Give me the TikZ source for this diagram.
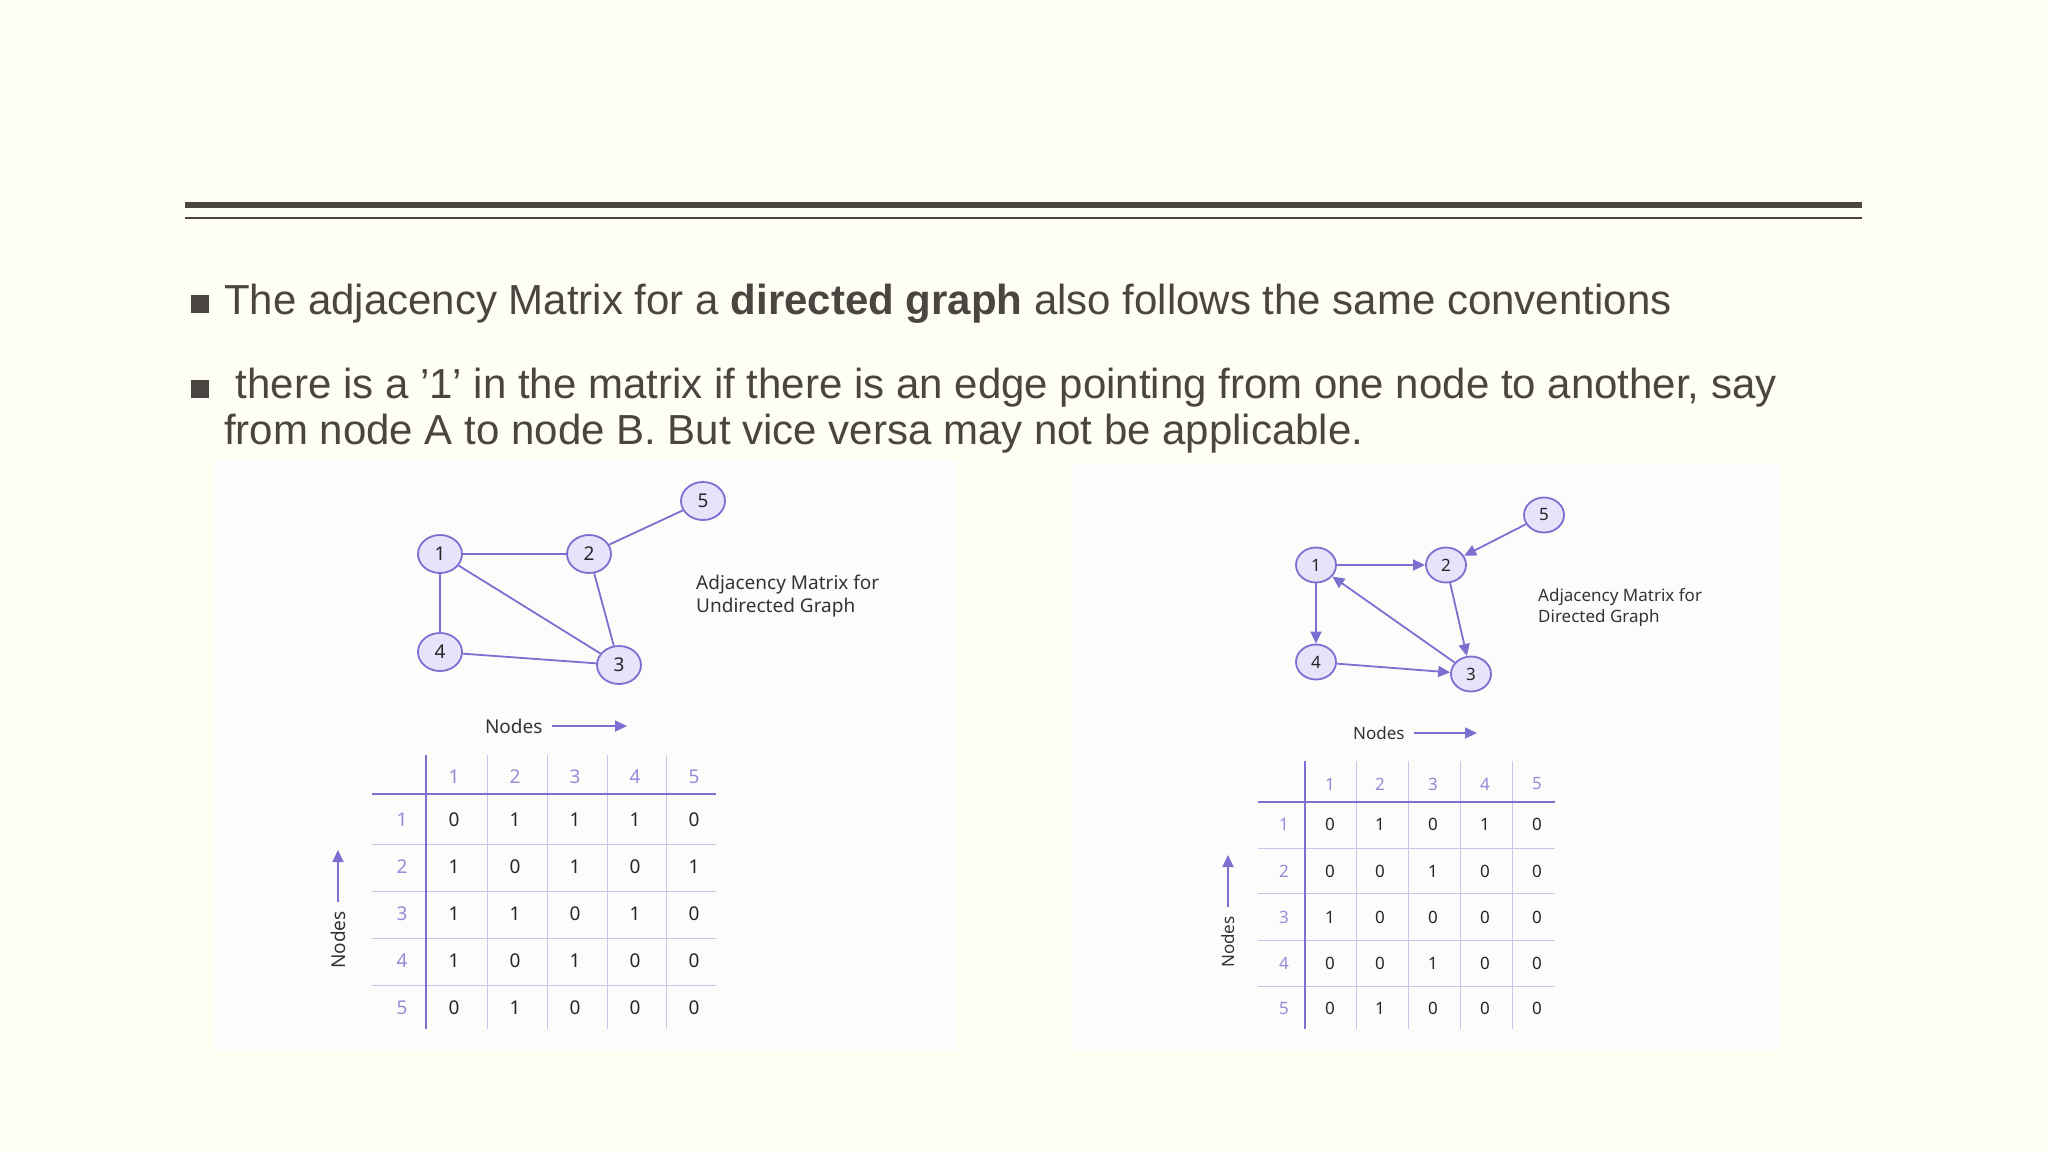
\documentclass[tikz,border=0pt]{standalone}
\usepackage{fontspec}
\setmainfont{Liberation Sans}
\newfontfamily\gf{Noto Sans}
\usetikzlibrary{arrows.meta,shapes.geometric}
\definecolor{bg}{HTML}{FEFEF2}
\definecolor{txt}{HTML}{4A4540}
\definecolor{rule}{HTML}{4D463E}
\definecolor{pur}{HTML}{7B6FCF}
\definecolor{nfill}{HTML}{E6E3FA}
\definecolor{grid}{HTML}{C9C4EC}
\definecolor{panel}{HTML}{FCFCFB}
\tikzset{
 gnode/.style={ellipse,draw=pur,fill=nfill,line width=1.8pt,minimum width=44pt,minimum height=38pt,inner sep=0pt,font=\gf\bfseries\fontsize{19}{19}\selectfont,text=black!85},
 gnodes/.style={gnode,minimum width=40pt,minimum height=35pt,font=\gf\bfseries\fontsize{17}{17}\selectfont},
 gedge/.style={draw=pur,line width=1.8pt},
 darr/.style={gedge,-{Triangle[length=12pt,width=11pt]}},
 captxt/.style={font=\gf\fontsize{19}{23}\selectfont,align=left,anchor=north west,text=black!80,inner sep=0pt},
 lab/.style={font=\gf\bfseries\fontsize{19}{19}\selectfont,text=pur!80},
 val/.style={font=\gf\bfseries\fontsize{19}{19}\selectfont,text=black!85},
 bul/.style={fill=txt},
 btxt/.style={anchor=base west,inner sep=0pt,font=\fontsize{42}{52}\selectfont,text=txt}
}
\begin{document}
\begin{tikzpicture}[x=1pt,y=-1pt]
\fill[bg] (0,0) rectangle (2048,1152);
\useasboundingbox (0,0) rectangle (2048,1152);
\fill[rule] (185,202) rectangle (1862,208);
\draw[rule,line width=1.5pt] (185,218) -- (1862,218);
\fill[bul] (191,295) rectangle (209,313);
\fill[bul] (191,380) rectangle (209,398);
\node[btxt] (t1) at (224,314) {The adjacency Matrix for a \textbf{directed graph} also follows the same conventions};
\node[btxt] (t2) at (224,398) {\ there is a '1' in the matrix if there is an edge pointing from one node to another, say};
\node[btxt] (t3) at (224,444) {from node A to node B. But vice versa may not be applicable.};
% panels
\fill[panel] (213,460) rectangle (958,1051);
\fill[panel] (1071,464) rectangle (1780,1051);
% left graph
\node[gnode] (a1) at (440,554) {1};
\node[gnode] (a2) at (589,554) {2};
\node[gnode] (a5) at (703,501) {5};
\node[gnode] (a4) at (440,652) {4};
\node[gnode] (a3) at (619,665) {3};
\draw[gedge] (a1)--(a2) (a2)--(a5) (a1)--(a4) (a1)--(a3) (a2)--(a3) (a4)--(a3);
\node[captxt] (ac) at (696,575) {Adjacency Matrix for\\Undirected Graph};
\node[font=\gf\fontsize{19}{19}\selectfont,text=black!80,anchor=east] (an) at (546,726) {Nodes};
\coordinate (ae) at (627,726);
\draw[darr] (an.east)++(6,0) -- (ae);
% left table
\foreach \x/\c in {1/454,2/515,3/575,4/635,5/694}{
  \node[lab] at (\c,777) {\x};}
\foreach \x/\r in {1/820,2/867,3/914,4/961,5/1008}{
  \node[lab] at (402,\r) {\x};}
\foreach \c in {487,547,607,666} \draw[grid,line width=1pt] (\c,755) -- (\c,1029);
\foreach \r in {844,891,938,985} \draw[grid,line width=1pt] (372,\r) -- (716,\r);
\draw[pur,line width=2pt] (372,794) -- (716,794);
\draw[pur,line width=2pt] (426,755) -- (426,1029);
\foreach \r/\vals in {820/{0,1,1,1,0},867/{1,0,1,0,1},914/{1,1,0,1,0},961/{1,0,1,0,0},1008/{0,1,0,0,0}}{
 \foreach \v [count=\i] in \vals {
  \pgfmathsetmacro{\cx}{{454,454,515,575,635,694}[\i]}
  \node[val] at (\cx,\r) {\v};}}
\node[rotate=90,font=\gf\fontsize{19}{19}\selectfont,text=black!80] (lnodes) at (338,940) {Nodes};
\coordinate (lt) at (338,850);
\draw[darr] (lnodes.east)++(0,-6) -- (lt);
% right graph
\node[gnodes] (b1) at (1316,565) {1};
\node[gnodes] (b2) at (1446,565) {2};
\node[gnodes] (b5) at (1544,515) {5};
\node[gnodes] (b4) at (1316,662) {4};
\node[gnodes] (b3) at (1471,674) {3};
\draw[darr] (b1)--(b2);
\draw[darr] (b5)--(b2);
\draw[darr] (b1)--(b4);
\draw[darr] (b3)--(b1);
\draw[darr] (b2)--(b3);
\draw[darr] (b4)--(b3);
\node[captxt,font=\gf\fontsize{17}{21}\selectfont] (bc) at (1538,588) {Adjacency Matrix for\\Directed Graph};
\node[font=\gf\fontsize{17}{17}\selectfont,text=black!80,anchor=east] (bn) at (1408,733) {Nodes};
\coordinate (be) at (1477,733);
\draw[darr] (bn.east)++(6,0) -- (be);
\foreach \x/\c in {1/1330,2/1380,3/1433,4/1485,5/1537}{
  \node[lab,font=\gf\bfseries\fontsize{17}{17}\selectfont] at (\c,784) {\x};}
\foreach \x/\r in {1/824,2/871,3/917,4/963,5/1008}{
  \node[lab,font=\gf\bfseries\fontsize{17}{17}\selectfont] at (1284,\r) {\x};}
\foreach \c in {1356,1408,1460,1512} \draw[grid,line width=1pt] (\c,761) -- (\c,1029);
\foreach \r in {848,893,940,986} \draw[grid,line width=1pt] (1258,\r) -- (1555,\r);
\draw[pur,line width=2pt] (1258,802) -- (1555,802);
\draw[pur,line width=2pt] (1305,761) -- (1305,1029);
\foreach \r/\vals in {824/{0,1,0,1,0},871/{0,0,1,0,0},917/{1,0,0,0,0},963/{0,0,1,0,0},1008/{0,1,0,0,0}}{
 \foreach \v [count=\i] in \vals {
  \pgfmathsetmacro{\cx}{{1330,1330,1380,1433,1485,1537}[\i]}
  \node[val,font=\gf\bfseries\fontsize{17}{17}\selectfont] at (\cx,\r) {\v};}}
\node[rotate=90,font=\gf\fontsize{17}{17}\selectfont,text=black!80] (rnodes) at (1228,942) {Nodes};
\coordinate (rt) at (1228,855);
\draw[darr] (rnodes.east)++(0,-6) -- (rt);
\end{tikzpicture}
\end{document}
